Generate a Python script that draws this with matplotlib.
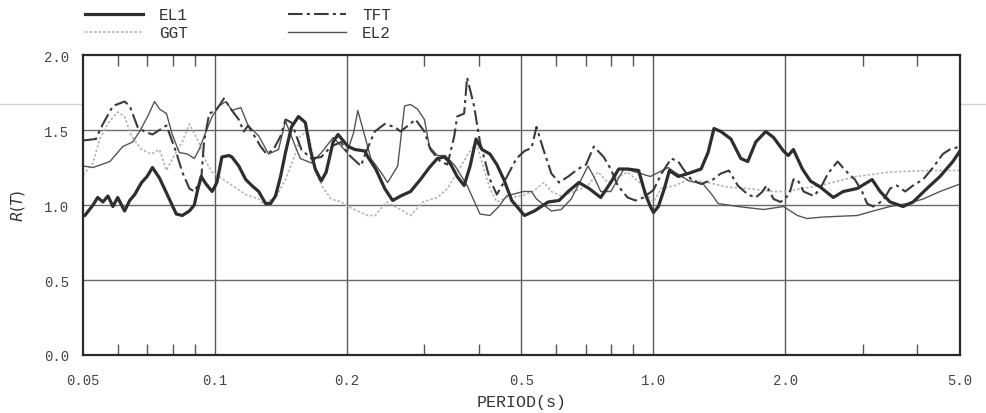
import numpy as np
import matplotlib
matplotlib.use("Agg")
import matplotlib.pyplot as plt
from matplotlib.lines import Line2D
from matplotlib.ticker import FixedLocator, NullFormatter

# ---- data ----
el1_T = [0.05, 0.0505, 0.0527, 0.054, 0.0555, 0.057, 0.0585, 0.06, 0.0622, 0.0639,
         0.0656, 0.068, 0.07, 0.072, 0.0747, 0.0778, 0.0816, 0.0842, 0.0874, 0.0897,
         0.0911, 0.093, 0.0954, 0.0985, 0.101, 0.1037, 0.1076, 0.1093, 0.1133, 0.1175,
         0.1213, 0.1258, 0.1304, 0.1339, 0.1374, 0.1411, 0.1448, 0.1494, 0.155, 0.1607,
         0.1649, 0.1693, 0.1747, 0.1793, 0.1859, 0.1908, 0.1959, 0.2011, 0.2085, 0.2196,
         0.2232, 0.2326, 0.2438, 0.2542, 0.2651, 0.2792, 0.2941, 0.3083, 0.3214, 0.3333,
         0.3421, 0.3567, 0.37, 0.3818, 0.3939, 0.4064, 0.4236, 0.4393, 0.4557, 0.4751,
         0.508, 0.535, 0.575, 0.609, 0.639, 0.676, 0.713, 0.758, 0.799, 0.833,
         0.873, 0.925, 0.959, 0.984, 1.0, 1.026, 1.059, 1.087, 1.139, 1.2,
         1.284, 1.332, 1.374, 1.425, 1.502, 1.582, 1.641, 1.711, 1.803, 1.879,
         1.979, 2.03, 2.085, 2.186, 2.28, 2.401, 2.571, 2.708, 2.915, 3.152,
         3.288, 3.465, 3.709, 3.908, 4.204, 4.502, 4.817, 5.0]
el1_R = [0.93, 0.93, 1.00, 1.05, 1.02, 1.06, 0.99, 1.05, 0.96, 1.03,
         1.07, 1.15, 1.19, 1.25, 1.18, 1.07, 0.94, 0.93, 0.96, 1.00,
         1.09, 1.19, 1.14, 1.09, 1.15, 1.32, 1.33, 1.32, 1.26, 1.17,
         1.13, 1.09, 1.01, 1.01, 1.06, 1.19, 1.35, 1.52, 1.59, 1.55,
         1.37, 1.24, 1.16, 1.22, 1.42, 1.47, 1.43, 1.39, 1.37, 1.36,
         1.32, 1.24, 1.11, 1.03, 1.06, 1.09, 1.17, 1.25, 1.31, 1.32,
         1.29, 1.19, 1.13, 1.26, 1.44, 1.37, 1.34, 1.27, 1.17, 1.03,
         0.93, 0.96, 1.02, 1.03, 1.09, 1.15, 1.11, 1.05, 1.15, 1.24,
         1.24, 1.23, 1.07, 0.99, 0.95, 0.99, 1.11, 1.23, 1.19, 1.21,
         1.24, 1.35, 1.51, 1.49, 1.44, 1.31, 1.29, 1.42, 1.49, 1.45,
         1.36, 1.33, 1.37, 1.24, 1.16, 1.12, 1.05, 1.09, 1.11, 1.17,
         1.09, 1.02, 0.99, 1.02, 1.11, 1.19, 1.29, 1.36]

ggt_T = [0.05, 0.0527, 0.0546, 0.0572, 0.06, 0.0622, 0.0645, 0.068, 0.0716, 0.0747,
         0.0775, 0.0807, 0.0842, 0.0874, 0.0911, 0.0954, 0.0985, 0.1021, 0.1175, 0.1258,
         0.1286, 0.1374, 0.1448, 0.152, 0.1565, 0.1625, 0.1658, 0.1693, 0.176, 0.184,
         0.194, 0.2011, 0.215, 0.2232, 0.232, 0.246, 0.265, 0.2792, 0.298, 0.3214,
         0.339, 0.357, 0.376, 0.394, 0.4106, 0.4236, 0.4393, 0.462, 0.5, 0.53,
         0.547, 0.563, 0.585, 0.616, 0.659, 0.709, 0.747, 0.787, 0.873, 0.93,
         0.98, 1.0, 1.04, 1.12, 1.2, 1.33, 1.47, 1.64, 1.88, 2.0,
         2.4, 2.9, 3.47, 4.2, 5.0]
ggt_R = [1.20, 1.28, 1.44, 1.55, 1.62, 1.59, 1.46, 1.37, 1.34, 1.37,
         1.23, 1.33, 1.42, 1.54, 1.44, 1.29, 1.22, 1.19, 1.07, 1.04,
         1.01, 1.05, 1.17, 1.33, 1.46, 1.49, 1.39, 1.22, 1.12, 1.04,
         1.02, 0.99, 0.95, 0.93, 0.93, 1.02, 0.97, 0.93, 1.02, 1.05,
         1.11, 1.22, 1.33, 1.42, 1.24, 1.11, 1.02, 1.05, 1.06, 1.09,
         1.12, 1.15, 1.09, 1.06, 1.09, 1.13, 1.22, 1.15, 1.22, 1.15,
         1.05, 1.02, 1.11, 1.13, 1.17, 1.15, 1.12, 1.11, 1.09, 1.09,
         1.13, 1.19, 1.22, 1.23, 1.23]

tft_T = [0.05, 0.0535, 0.0555, 0.0585, 0.0622, 0.0639, 0.0666, 0.069, 0.072, 0.0747,
         0.0775, 0.0816, 0.0842, 0.0874, 0.0897, 0.093, 0.0944, 0.097, 0.1005, 0.1048,
         0.1093, 0.1133, 0.1163, 0.119, 0.1271, 0.1311, 0.136, 0.1411, 0.1448, 0.1494,
         0.1574, 0.1658, 0.1747, 0.184, 0.1939, 0.2011, 0.2151, 0.2208, 0.2314, 0.2438,
         0.2569, 0.2651, 0.2866, 0.3003, 0.3099, 0.3265, 0.339, 0.3513, 0.3567, 0.37,
         0.3758, 0.3898, 0.4021, 0.4236, 0.4393, 0.4557, 0.487, 0.508, 0.527, 0.541,
         0.561, 0.585, 0.609, 0.639, 0.673, 0.702, 0.731, 0.77, 0.799, 0.829,
         0.873, 0.91, 0.949, 1.0, 1.043, 1.098, 1.139, 1.169, 1.219, 1.284,
         1.367, 1.425, 1.486, 1.557, 1.641, 1.711, 1.774, 1.81, 1.879, 1.949,
         2.04, 2.085, 2.13, 2.2, 2.32, 2.401, 2.5, 2.63, 2.74, 2.88,
         2.99, 3.07, 3.17, 3.34, 3.465, 3.59, 3.75, 3.908, 4.12, 4.34,
         4.57, 4.74, 5.0]
tft_R = [1.43, 1.44, 1.54, 1.66, 1.69, 1.66, 1.52, 1.49, 1.47, 1.50,
         1.53, 1.35, 1.22, 1.11, 1.09, 1.17, 1.42, 1.61, 1.63, 1.71,
         1.63, 1.57, 1.49, 1.53, 1.39, 1.34, 1.37, 1.46, 1.57, 1.55,
         1.37, 1.31, 1.32, 1.39, 1.42, 1.34, 1.26, 1.35, 1.49, 1.54,
         1.52, 1.49, 1.57, 1.49, 1.37, 1.29, 1.27, 1.46, 1.59, 1.61,
         1.85, 1.66, 1.42, 1.17, 1.07, 1.15, 1.31, 1.36, 1.38, 1.52,
         1.37, 1.21, 1.15, 1.19, 1.24, 1.27, 1.39, 1.32, 1.24, 1.13,
         1.05, 1.03, 1.05, 1.10, 1.21, 1.31, 1.29, 1.24, 1.17, 1.14,
         1.17, 1.21, 1.23, 1.13, 1.07, 1.05, 1.09, 1.13, 1.04, 1.02,
         1.07, 1.17, 1.17, 1.09, 1.06, 1.11, 1.21, 1.29, 1.23, 1.17,
         1.09, 1.01, 0.99, 1.03, 1.11, 1.13, 1.09, 1.13, 1.17, 1.25,
         1.34, 1.37, 1.39]

el2_T = [0.05, 0.0527, 0.0576, 0.0616, 0.0649, 0.0673, 0.0702, 0.0728, 0.0747, 0.0775,
         0.0799, 0.0829, 0.0865, 0.0897, 0.092, 0.0954, 0.0985, 0.1021, 0.1059, 0.1093,
         0.1145, 0.119, 0.1258, 0.1325, 0.1396, 0.1448, 0.1525, 0.1565, 0.166, 0.175,
         0.186, 0.193, 0.2, 0.207, 0.2117, 0.2196, 0.2267, 0.2388, 0.2476, 0.261,
         0.2706, 0.2792, 0.2896, 0.3003, 0.3083, 0.3214, 0.3351, 0.353, 0.3758, 0.4021,
         0.4236, 0.4439, 0.4621, 0.505, 0.527, 0.541, 0.585, 0.616, 0.649, 0.676,
         0.709, 0.731, 0.758, 0.799, 0.829, 0.856, 0.887, 0.934, 0.984, 1.081,
         1.116, 1.206, 1.298, 1.367, 1.403, 1.557, 1.783, 1.979, 2.13, 2.24,
         2.44, 2.915, 3.17, 3.465, 3.79, 4.12, 4.502, 5.0]
el2_R = [1.26, 1.25, 1.29, 1.39, 1.42, 1.49, 1.59, 1.69, 1.64, 1.61,
         1.47, 1.35, 1.34, 1.31, 1.37, 1.49, 1.59, 1.66, 1.69, 1.63,
         1.65, 1.53, 1.46, 1.34, 1.37, 1.56, 1.39, 1.31, 1.28, 1.35,
         1.45, 1.40, 1.35, 1.48, 1.63, 1.46, 1.31, 1.22, 1.15, 1.26,
         1.66, 1.67, 1.64, 1.57, 1.39, 1.33, 1.33, 1.26, 1.13, 0.94,
         0.93, 0.99, 1.06, 1.09, 1.09, 1.04, 0.96, 0.97, 1.04, 1.14,
         1.26, 1.19, 1.09, 1.09, 1.17, 1.24, 1.23, 1.21, 1.19, 1.25,
         1.22, 1.16, 1.14, 1.06, 1.01, 0.99, 0.97, 0.99, 0.93, 0.91,
         0.92, 0.93, 0.96, 0.99, 1.01, 1.04, 1.09, 1.14]

major_x = [0.05, 0.1, 0.2, 0.5, 1.0, 2.0, 5.0]
major_x_labels = ["0.05", "0.1", "0.2", "0.5", "1.0", "2.0", "5.0"]
minor_x = [0.06, 0.07, 0.08, 0.09, 0.3, 0.4, 0.6, 0.7, 0.8, 0.9, 3.0, 4.0]
y_ticks = [0.0, 0.5, 1.0, 1.5, 2.0]

# ---- figure ----
fig = plt.figure(figsize=(9.87, 4.14), dpi=100)
ax = fig.add_axes([0.0841, 0.1401, 0.8885, 0.7246])

mono = "Liberation Mono"

ax.plot(ggt_T, ggt_R, color="#b4b4b4", lw=1.2, ls=(0, (1.5, 1.2)), label="GGT")
ax.plot(el2_T, el2_R, color="#555555", lw=1.0, label="EL2")
ax.plot(tft_T, tft_R, color="#3a3a3a", lw=1.5, ls=(0, (7, 2, 1.5, 2)), label="TFT")
ax.plot(el1_T, el1_R, color="#2e2e2e", lw=2.3, label="EL1")

ax.set_xscale("log")
ax.set_xlim(0.05, 5.0)
ax.set_ylim(0.0, 2.0)

ax.xaxis.set_major_locator(FixedLocator(major_x))
ax.set_xticklabels(major_x_labels)
ax.xaxis.set_minor_locator(FixedLocator(minor_x))
ax.xaxis.set_minor_formatter(NullFormatter())
ax.set_yticks(y_ticks)
ax.set_yticklabels(["%.1f" % v for v in y_ticks])

for v in major_x[1:-1]:
    ax.axvline(v, color="#5a5a5a", lw=1.0, zorder=0)
for v in [0.5, 1.0, 1.5]:
    ax.axhline(v, color="#6a6a6a", lw=1.0, zorder=0)

ax.tick_params(axis="x", which="major", length=0, pad=13,
               labelsize=10, labelcolor="#444444")
ax.tick_params(axis="y", which="major", length=0, pad=10,
               labelsize=10, labelcolor="#444444")
ax.tick_params(axis="x", which="minor", direction="in", length=8,
               width=1.0, color="#555555", top=True, bottom=True)
for lab in ax.get_xticklabels() + ax.get_yticklabels():
    lab.set_family(mono)

for s in ax.spines.values():
    s.set_color("#2a2a2a")
    s.set_linewidth(1.6)

ax.set_xlabel("PERIOD(s)", family=mono, fontsize=12, color="#333333", labelpad=5)
ax.set_ylabel("$R(T)$", fontsize=11, color="#333333", labelpad=12,
              family="Liberation Serif")

# faint scan line across the page
fig.add_artist(Line2D([0, 1], [0.746, 0.746], transform=fig.transFigure,
                      color="#d4d4d4", lw=1.0, zorder=-1))

handles, labels = ax.get_legend_handles_labels()
order = [labels.index(n) for n in ["EL1", "GGT", "TFT", "EL2"]]
leg = fig.legend([handles[i] for i in order], [labels[i] for i in order],
                 ncol=2, loc="upper left", bbox_to_anchor=(0.072, 1.015),
                 frameon=False, handlelength=3.6, handletextpad=1.0,
                 columnspacing=6.3, labelspacing=0.2,
                 prop={"family": mono, "size": 11.5})
for t in leg.get_texts():
    t.set_color("#333333")

fig.savefig("out.png", dpi=100)
